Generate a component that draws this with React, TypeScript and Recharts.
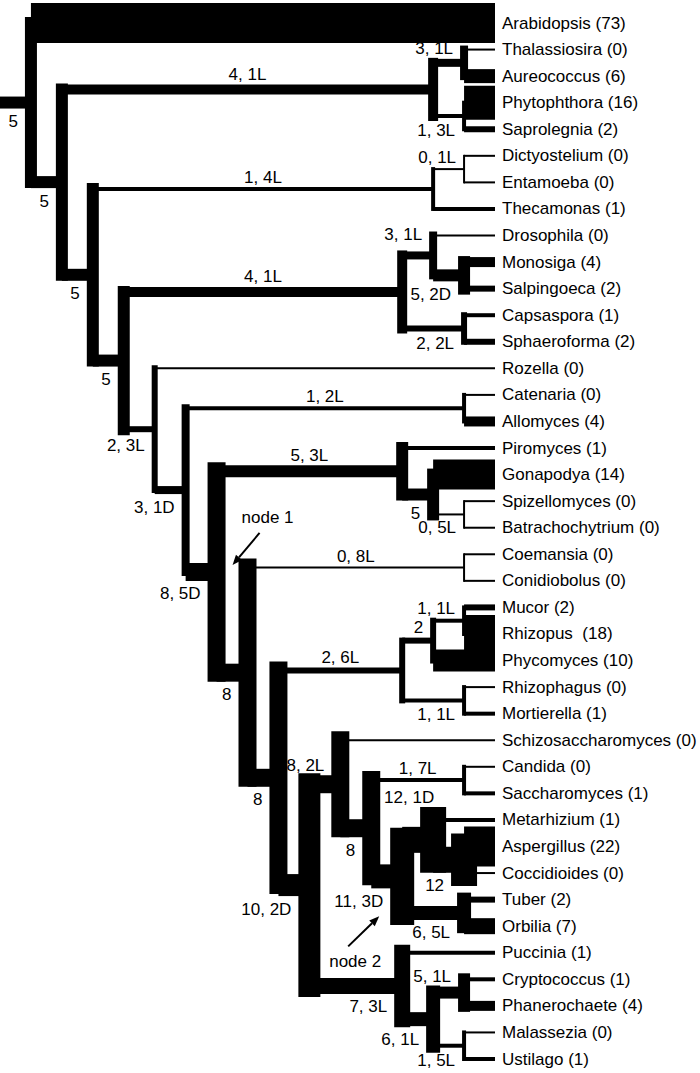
import React from 'react';
import { ComposedChart, Line, Scatter, XAxis, YAxis } from 'recharts';

// leaves, top to bottom, with gene counts
const leafNames = [
  'Arabidopsis', 'Thalassiosira', 'Aureococcus', 'Phytophthora', 'Saprolegnia',
  'Dictyostelium', 'Entamoeba', 'Thecamonas', 'Drosophila', 'Monosiga',
  'Salpingoeca', 'Capsaspora', 'Sphaeroforma', 'Rozella', 'Catenaria',
  'Allomyces', 'Piromyces', 'Gonapodya', 'Spizellomyces', 'Batrachochytrium',
  'Coemansia', 'Conidiobolus', 'Mucor', 'Rhizopus ', 'Phycomyces',
  'Rhizophagus', 'Mortierella', 'Schizosaccharomyces', 'Candida', 'Saccharomyces',
  'Metarhizium', 'Aspergillus', 'Coccidioides', 'Tuber', 'Orbilia',
  'Puccinia', 'Cryptococcus', 'Phanerochaete', 'Malassezia', 'Ustilago',
];
const leafCounts = [
  73, 0, 6, 16, 2,
  0, 0, 1, 0, 4,
  2, 1, 2, 0, 0,
  4, 1, 14, 0, 0,
  0, 0, 2, 18, 10,
  0, 1, 0, 0, 1,
  1, 22, 0, 2, 7,
  1, 1, 4, 0, 1,
];

// internal nodes: id, [upper child, lower child], branch label (genes, losses/duplications)
const cladeIds = [
  'S1', 'S2', 'Strameno', 'D1', 'Amoebo', 'H1a', 'H1', 'H2', 'Holozoa',
  'Blasto', 'C2', 'C1', 'Chytrid', 'Ento', 'M1a', 'M1', 'M2', 'Mucoro',
  'Sacch', 'E2', 'Euro', 'Pez', 'node2', 'Pezizo', 'Asco',
  'B1a', 'B1b', 'B1', 'Basidio', 'Dikarya', 'N1c', 'N1b', 'node1',
  'A5', 'A4', 'A3', 'A2', 'A1', 'root',
];
const cladeChildren = [
  ['Thalassiosira', 'Aureococcus'], ['Phytophthora', 'Saprolegnia'], ['S1', 'S2'],
  ['Dictyostelium', 'Entamoeba'], ['D1', 'Thecamonas'], ['Monosiga', 'Salpingoeca'],
  ['Drosophila', 'H1a'], ['Capsaspora', 'Sphaeroforma'], ['H1', 'H2'],
  ['Catenaria', 'Allomyces'], ['Spizellomyces', 'Batrachochytrium'], ['Gonapodya', 'C2'],
  ['Piromyces', 'C1'], ['Coemansia', 'Conidiobolus'], ['Mucor', 'Rhizopus '],
  ['M1a', 'Phycomyces'], ['Rhizophagus', 'Mortierella'], ['M1', 'M2'],
  ['Candida', 'Saccharomyces'], ['Aspergillus', 'Coccidioides'], ['Metarhizium', 'E2'],
  ['Tuber', 'Orbilia'], ['Euro', 'Pez'], ['Sacch', 'node2'], ['Schizosaccharomyces', 'Pezizo'],
  ['Cryptococcus', 'Phanerochaete'], ['Malassezia', 'Ustilago'], ['B1a', 'B1b'],
  ['Puccinia', 'B1'], ['Asco', 'Basidio'], ['Mucoro', 'Dikarya'], ['Ento', 'N1c'],
  ['Chytrid', 'N1b'], ['Blasto', 'node1'], ['Rozella', 'A5'], ['Holozoa', 'A4'],
  ['Amoebo', 'A3'], ['Strameno', 'A2'], ['Arabidopsis', 'A1'],
];
const cladeLabels = [
  '3, 1L', '1, 3L', '4, 1L', '0, 1L', '1, 4L', '5, 2D', '3, 1L', '2, 2L', '4, 1L',
  '1, 2L', '0, 5L', '5', '5, 3L', '0, 8L', '1, 1L', '2', '1, 1L', '2, 6L',
  '1, 7L', '12', '12, 1D', '6, 5L', '11, 3D', '8', '8, 2L',
  '5, 1L', '1, 5L', '6, 1L', '7, 3L', '10, 2D', '8', '8', '8, 5D',
  '3, 1D', '2, 3L', '5', '5', '5', '5',
];

// where each branch label sits relative to its node
const labelPlace: Record<string, string> = {
  root: 'below', A1: 'below', Strameno: 'mid', S1: 'top', S2: 'bottom', A2: 'below',
  Amoebo: 'mid', D1: 'top', A3: 'below', Holozoa: 'mid', H1: 'top', H1a: 'below',
  H2: 'bottom', A4: 'below', A5: 'below', Blasto: 'mid', node1: 'below', Chytrid: 'mid',
  C1: 'below', C2: 'bottom', N1b: 'below', Ento: 'mid', N1c: 'below', Mucoro: 'mid',
  M1: 'above', M1a: 'top', M2: 'bottom', Dikarya: 'below', Asco: 'above', Pezizo: 'below',
  Sacch: 'mid', node2: 'below', Euro: 'over', E2: 'bottom', Pez: 'bottom', Basidio: 'below',
  B1: 'below', B1a: 'top', B1b: 'bottom',
};
const callouts = [
  { id: 'node1', text: 'node 1', tx: 51, ty: -54, ax: 43, ay: -39, bx: 16, by: -7 },
  { id: 'node2', text: 'node 2', tx: -47, ty: 85, ax: -54, ay: 70, bx: -23, by: 40 },
];

const FONT = 'Liberation Sans, Arial, sans-serif';

const leafIdx = new Map(leafNames.map((n, i) => [n, i]));
const cladeIdx = new Map(cladeIds.map((n, i) => [n, i]));
const isLeaf = (id: string) => leafIdx.has(id);
const kids = (id: string) => cladeChildren[cladeIdx.get(id)!];
const weightOf = (id: string): number =>
  isLeaf(id) ? leafCounts[leafIdx.get(id)!] : parseInt(cladeLabels[cladeIdx.get(id)!], 10);
const heightOf = (id: string): number =>
  isLeaf(id) ? 0 : 1 + Math.max(...kids(id).map(heightOf));
const rowOf = (id: string): number =>
  isLeaf(id) ? leafIdx.get(id)! : (rowOf(kids(id)[0]) + rowOf(kids(id)[1])) / 2;
const thick = (n: number) => Math.min(2 + 2 * n, 40);

const parentOf = new Map<string, string>();
cladeIds.forEach((id, i) => cladeChildren[i].forEach((c) => parentOf.set(c, id)));
const rootH = heightOf('root');

type Seg = { key: string; w: number; cap: 'square' | 'butt'; pts: { x: number; y: number }[] };
const segs: Seg[] = [
  { key: 'stem', w: thick(weightOf('root')), cap: 'butt', pts: [{ x: rootH + 1, y: rowOf('root') }, { x: rootH, y: rowOf('root') }] },
];
cladeIds.forEach((id, i) => {
  const h = heightOf(id);
  const [a, b] = cladeChildren[i];
  segs.push({ key: id + '-v', w: thick(weightOf(id)), cap: 'square', pts: [{ x: h, y: rowOf(a) }, { x: h, y: rowOf(b) }] });
  [a, b].forEach((c) =>
    segs.push({ key: c + '-h', w: thick(weightOf(c)), cap: 'butt', pts: [{ x: h, y: rowOf(c) }, { x: heightOf(c), y: rowOf(c) }] })
  );
});

const leafPts = leafNames.map((n, i) => ({ x: 0, y: i, text: `${n} (${leafCounts[i]})` }));

const labelPts = cladeIds.map((id, i) => {
  const place = labelPlace[id];
  const h = heightOf(id);
  const [a, b] = cladeChildren[i];
  const ph = parentOf.has(id) ? heightOf(parentOf.get(id)!) : rootH + 1;
  let x = h;
  let y = rowOf(id);
  if (place === 'mid') x = (h + ph) / 2;
  if (place === 'top' || place === 'over') y = rowOf(a);
  if (place === 'bottom') y = rowOf(b);
  return { x, y, text: cladeLabels[i], place, half: thick(weightOf(id)) / 2 };
});

const calloutPts = callouts.map((c) => ({ ...c, x: heightOf(c.id), y: rowOf(c.id) }));

const LeafLabel = (p: any) => (
  <text x={p.cx + 7} y={p.cy} dominantBaseline="central" fontFamily={FONT} fontSize={17} fill="#000" style={{ whiteSpace: 'pre' }}>
    {p.payload.text}
  </text>
);

const BranchLabel = (p: any) => {
  const { text, place, half } = p.payload;
  let x = p.cx - half - 7;
  let y = p.cy;
  let anchor = 'end';
  if (place === 'mid') {
    x = p.cx;
    anchor = 'middle';
    y = p.cy - half - 10;
  } else if (place === 'over') {
    x = p.cx - 24;
    anchor = 'middle';
    y = p.cy - half - 9;
  } else if (place === 'top') y = p.cy - half + 3;
  else if (place === 'bottom') y = p.cy + half - 1;
  else if (place === 'below') y = p.cy + half + 13;
  else if (place === 'above') y = p.cy - half - 10;
  return (
    <text x={x} y={y} textAnchor={anchor} dominantBaseline="central" fontFamily={FONT} fontSize={17} fill="#000">
      {text}
    </text>
  );
};

const Callout = (p: any) => {
  const c = p.payload;
  const x1 = p.cx + c.ax, y1 = p.cy + c.ay, x2 = p.cx + c.bx, y2 = p.cy + c.by;
  const len = Math.hypot(x2 - x1, y2 - y1);
  const ux = (x2 - x1) / len, uy = (y2 - y1) / len;
  const bx = x2 - ux * 10, by = y2 - uy * 10;
  const head = `${x2},${y2} ${bx - uy * 4},${by + ux * 4} ${bx + uy * 4},${by - ux * 4}`;
  return (
    <g>
      <text x={p.cx + c.tx} y={p.cy + c.ty} textAnchor="middle" dominantBaseline="central" fontFamily={FONT} fontSize={17} fill="#000">
        {c.text}
      </text>
      <line x1={x1} y1={y1} x2={bx} y2={by} stroke="#000" strokeWidth={2} />
      <polygon points={head} fill="#000" />
    </g>
  );
};

export default function App() {
  return (
    <div style={{ position: 'absolute', left: 0, top: 0, background: '#fff' }}>
      <ComposedChart width={700} height={1073} margin={{ top: 23, right: 205, bottom: 14, left: 0 }}>
        <XAxis type="number" dataKey="x" domain={[0, rootH + 1]} reversed hide />
        <YAxis type="number" dataKey="y" domain={[0, leafNames.length - 1]} reversed hide />
        {segs.map((s) => (
          <Line
            key={s.key}
            data={s.pts}
            dataKey="y"
            type="linear"
            stroke="#000"
            strokeWidth={s.w}
            strokeLinecap={s.cap}
            strokeLinejoin="miter"
            dot={false}
            activeDot={false}
            legendType="none"
            isAnimationActive={false}
          />
        ))}
        <Scatter data={leafPts} dataKey="y" shape={LeafLabel} isAnimationActive={false} />
        <Scatter data={labelPts} dataKey="y" shape={BranchLabel} isAnimationActive={false} />
        <Scatter data={calloutPts} dataKey="y" shape={Callout} isAnimationActive={false} />
      </ComposedChart>
    </div>
  );
}
